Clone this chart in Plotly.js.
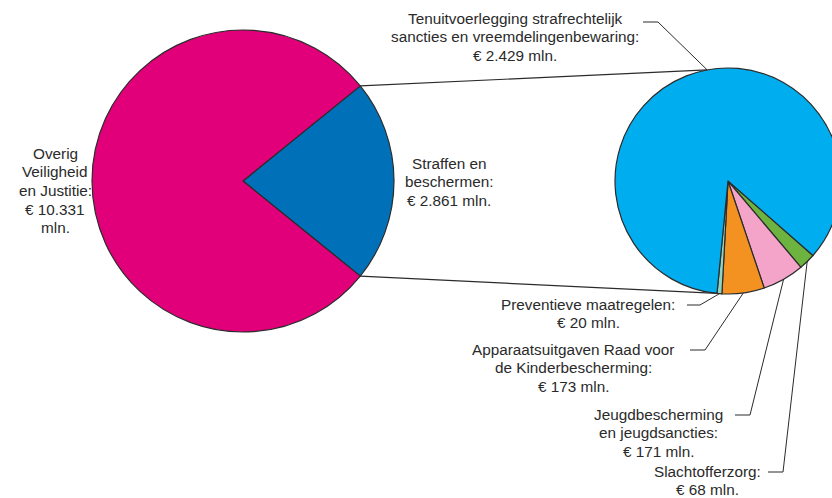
<!DOCTYPE html>
<html><head><meta charset="utf-8">
<script src="https://cdn.plot.ly/plotly-3.0.1.min.js"></script>
<style>html,body{margin:0;padding:0;overflow:hidden;background:#fff;width:832px;height:498px}#chart{width:860px;height:498px}</style>
</head><body><div id="chart"></div>
<script>
// ---- data ----
const outerLabels = ['Straffen en beschermen', 'Overig Veiligheid en Justitie'];
const outerValues = [2861, 10331];
const outerColors = ['#0071B9', '#E2007A'];

const innerLabels = ['Slachtofferzorg', 'Jeugdbescherming en jeugdsancties', 'Apparaatsuitgaven Raad voor de Kinderbescherming', 'Preventieve maatregelen', 'Tenuitvoerlegging strafrechtelijk sancties en vreemdelingenbewaring'];
const innerValues = [68, 171, 173, 20, 2429];
const innerColors = ['#6DB33F', '#F4A3C9', '#F39220', '#8FD3C0', '#00ADEE'];

const outerText = [['Straffen en', 'beschermen:', '€ 2.861 mln.'], ['Overig', 'Veiligheid', 'en Justitie:', '€ 10.331', 'mln.']];
const innerText = [['Slachtofferzorg:', '€ 68 mln.'], ['Jeugdbescherming', 'en jeugdsancties:', '€ 171 mln.'], ['Apparaatsuitgaven Raad voor', 'de Kinderbescherming:', '€ 173 mln.'], ['Preventieve maatregelen:', '€ 20 mln.'], ['Tenuitvoerlegging strafrechtelijk', 'sancties en vreemdelingenbewaring:', '€ 2.429 mln.']];

// ---- layout geometry (pixels) ----
const W = 860, H = 498;
const X = p => p / W, Y = p => 1 - p / H;
const L = {cx: 243, cy: 181, r: 151};
const R = {cx: 728, cy: 181, r: 113};
const dom = c => ({x: [X(c.cx - c.r), X(c.cx + c.r)], y: [Y(c.cy + c.r), Y(c.cy - c.r)]});
const pt = (c, deg) => [c.cx + c.r * Math.sin(deg * Math.PI / 180), c.cy - c.r * Math.cos(deg * Math.PI / 180)];
const sum = a => a.reduce((s, v) => s + v, 0);

const outerSpan = outerValues[0] / sum(outerValues) * 360;
const outerRot = 90 - outerSpan / 2;
const innerTotal = sum(innerValues);
const smallSpan = sum(innerValues.slice(0, 4)) / innerTotal * 360;
const innerRot = 185.6 - smallSpan;
const innerMid = [];
let acc = innerRot;
innerValues.forEach(v => { const s = v / innerTotal * 360; innerMid.push(acc + s / 2); acc += s; });

const ink = '#2b2b2b';
const traces = [
  {type: 'pie', labels: outerLabels, values: outerValues, marker: {colors: outerColors, line: {color: ink, width: 1.2}},
   sort: false, direction: 'clockwise', rotation: outerRot, textinfo: 'none', hoverinfo: 'label+value', domain: dom(L)},
  {type: 'pie', labels: innerLabels, values: innerValues, marker: {colors: innerColors, line: {color: ink, width: 1.2}},
   sort: false, direction: 'clockwise', rotation: innerRot, textinfo: 'none', hoverinfo: 'label+value', domain: dom(R)}
];

const shapes = [];
const line = (a, b) => shapes.push({type: 'line', xref: 'paper', yref: 'paper', x0: X(a[0]), y0: Y(a[1]), x1: X(b[0]), y1: Y(b[1]), line: {color: ink, width: 1.2}});
const path = pts => shapes.push({type: 'path', xref: 'paper', yref: 'paper',
  path: pts.map((p, i) => (i ? 'L' : 'M') + X(p[0]) + ',' + Y(p[1])).join(' '), line: {color: ink, width: 1}});

line(pt(L, outerRot), pt(R, 349.4));
line(pt(L, outerRot + outerSpan), pt(R, innerRot + smallSpan));

// [centerX, first line Y, leader start, elbow]
const innerPos = [
  [707, 471, [768, 472], [783, 472]],
  [658, 414, [735, 415], [750, 415]],
  [573, 349, [690, 350], [705, 350]],
  [588, 304, [687, 305], [700, 305]],
  [515, 18, [643, 22], [658, 22]]
];
const outerPos = [[449, 163], [55, 153]];
const LS = 18.7;

const annotations = [];
const font = {family: 'Liberation Sans, Arial, sans-serif', size: 15.3, color: '#2a2a2a'};
const block = (lines, cx, y0) => lines.forEach((t, k) => annotations.push({text: t, x: X(cx), y: Y(y0 + k * LS), xref: 'paper', yref: 'paper',
  showarrow: false, xanchor: 'center', yanchor: 'middle', align: 'center', font, borderpad: 0}));
innerText.forEach((t, i) => {
  const p = innerPos[i];
  block(t, p[0], p[1]);
  const end = i === 4 ? pt(R, 349.4) : pt(R, innerMid[i]);
  path([p[2], p[3], end]);
});
outerText.forEach((t, i) => block(t, outerPos[i][0], outerPos[i][1]));

Plotly.newPlot('chart', traces, {
  width: W, height: H, margin: {l: 0, r: 0, t: 0, b: 0}, paper_bgcolor: '#fff', showlegend: false,
  shapes, annotations
}, {displayModeBar: false, staticPlot: true});
</script></body></html>
